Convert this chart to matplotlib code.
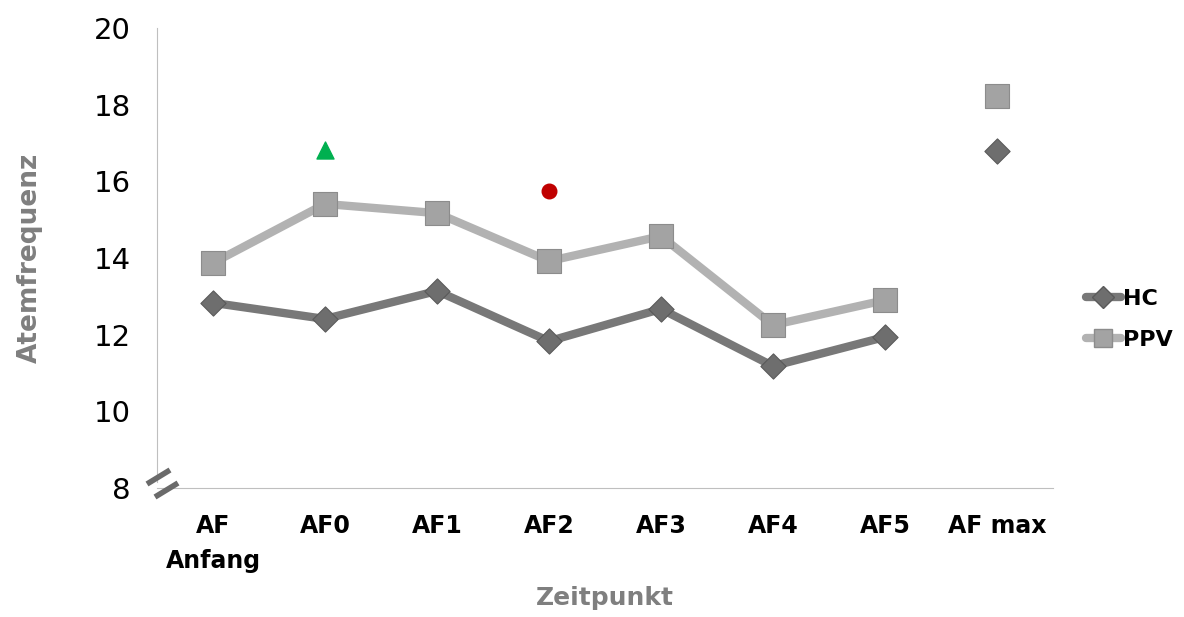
import numpy as np
import matplotlib.pyplot as plt
from matplotlib.lines import Line2D

# Zeitpunkte und Atemfrequenz je Gruppe
zeitpunkte = ["AF\nAnfang", "AF0", "AF1", "AF2", "AF3", "AF4", "AF5", "AF max"]
hc = [12.83, 12.41, 13.14, 11.83, 12.67, 11.18, 11.94]
ppv = [13.87, 15.41, 15.17, 13.92, 14.57, 12.25, 12.90]
hc_max = 16.79
ppv_max = 18.23
# Signifikanz-Markierungen (AF0 Dreieck, AF2 Punkt)
sig_triangle = (1, 16.82)
sig_circle = (3, 15.75)

grey_txt = "#7f7f7f"
hc_col = "#787878"
ppv_col = "#b2b2b2"

plt.rcParams['font.family'] = ['DejaVu Sans']

W, H = 1184, 617
fig = plt.figure(figsize=(W / 100, H / 100), dpi=100)
ax = fig.add_axes([157 / W, 1 - 488 / H, 896 / W, 460 / H])

x = np.arange(len(hc))
ax.plot(x, hc, color=hc_col, lw=6, solid_capstyle='round', zorder=2)
ax.plot(x, ppv, color=ppv_col, lw=6, solid_capstyle='round', zorder=2)
ax.scatter(list(x) + [7], hc + [hc_max], marker='D', s=165, color="#6e6e6e",
           edgecolors="#5a5a5a", linewidths=0.8, zorder=3)
ax.scatter(list(x) + [7], ppv + [ppv_max], marker='s', s=300, color="#a3a3a3",
           edgecolors="#8c8c8c", linewidths=0.8, zorder=3)

ax.scatter([sig_triangle[0]], [sig_triangle[1]], marker='^', s=150, color="#00b050", zorder=4)
ax.scatter([sig_circle[0]], [sig_circle[1]], marker='o', s=110, color="#c00000", zorder=4)

ax.set_xlim(-0.5, 7.5)
ax.set_ylim(8, 20)
ax.set_yticks(range(8, 21, 2))
ax.set_xticks(range(len(zeitpunkte)))
ax.set_xticklabels(zeitpunkte, fontsize=17, fontweight='bold', linespacing=1.55)
ax.tick_params(axis='y', labelsize=21, length=0, pad=19)
ax.tick_params(axis='x', length=0, pad=19)

for side in ['top', 'right']:
    ax.spines[side].set_visible(False)
ax.spines['left'].set_color("#bfbfbf")
ax.spines['bottom'].set_color("#bfbfbf")
ax.spines['left'].set_bounds(8.15, 20)

# Achsenbruch unten links (zwei kurze Striche)
for (x0, y0, x1, y1) in [(147, 484, 170, 470), (155, 497, 178, 483)]:
    fig.add_artist(Line2D([x0 / W, x1 / W], [1 - y0 / H, 1 - y1 / H],
                          color="#6a6a6a", lw=4, solid_capstyle='butt'))

# Achsentitel fest positioniert
fig.text(30 / W, 1 - 258 / H, "Atemfrequenz", rotation=90, ha='center', va='center',
         fontsize=19, fontweight='bold', color=grey_txt)
fig.text(605 / W, 1 - 598 / H, "Zeitpunkt", ha='center', va='center',
         fontsize=18, fontweight='bold', color=grey_txt)

handles = [
    Line2D([], [], color=hc_col, lw=6, marker='D', markersize=11,
           markerfacecolor="#6e6e6e", markeredgecolor="#5a5a5a", solid_capstyle='round'),
    Line2D([], [], color=ppv_col, lw=6, marker='s', markersize=13,
           markerfacecolor="#a3a3a3", markeredgecolor="#8c8c8c", solid_capstyle='round'),
]
fig.legend(handles, ["HC", "PPV"], loc='center left', bbox_to_anchor=(0.9, 0.482),
           frameon=False, prop={'size': 16, 'weight': 'bold'}, handlelength=1.6,
           handletextpad=0.1, labelspacing=0.95)

fig.savefig("out.png", dpi=100)
